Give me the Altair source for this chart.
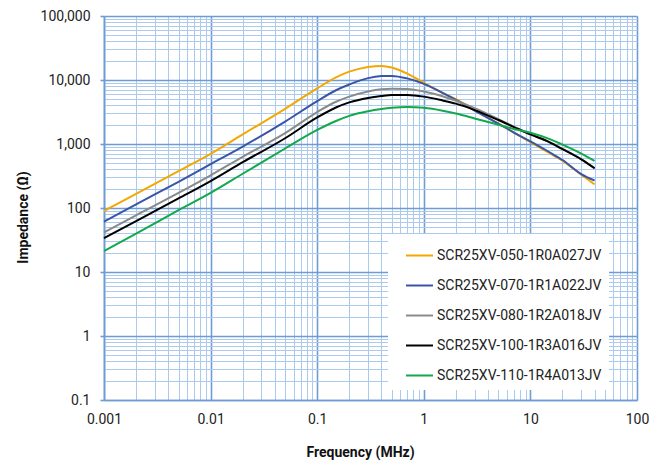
import altair as alt
import pandas as pd

# ---- data ----
freq = [0.001, 0.002, 0.005, 0.01, 0.02, 0.05, 0.1, 0.15, 0.2, 0.3, 0.4,
        0.5, 0.7, 1, 1.5, 2, 3, 5, 7, 10, 15, 20, 30, 40]

series_names = [
    "SCR25XV-050-1R0A027JV",
    "SCR25XV-070-1R1A022JV",
    "SCR25XV-080-1R2A018JV",
    "SCR25XV-100-1R3A016JV",
    "SCR25XV-110-1R4A013JV",
]
series_colors = ["#f3a800", "#3b55a6", "#8a8a8a", "#000000", "#13a84b"]

z_050 = [89.7, 166, 376, 700, 1410, 3550, 7410, 11000, 13500, 16000, 16600,
         15700, 12600, 9020, 6310, 5010, 3390, 2090, 1510, 1070, 724, 550, 331, 234]
z_070 = [61.1, 114, 257, 484, 912, 2240, 4680, 6920, 8510, 10700, 11500,
         11600, 10600, 8710, 6310, 4900, 3310, 2090, 1510, 1100, 750, 562, 339, 269]
z_080 = [41.7, 76.7, 172, 324, 631, 1480, 3160, 4570, 5500, 6610, 7160,
         7330, 7240, 6610, 5560, 4730, 3630, 2450, 1860, 1420, 1080, 836, 578, 419]
z_100 = [33.7, 62.4, 141, 263, 519, 1230, 2600, 3720, 4470, 5250, 5620,
         5820, 5820, 5500, 4790, 4270, 3390, 2370, 1840, 1410, 1070, 832, 575, 417]
z_110 = [21.3, 39.8, 92.3, 172, 343, 851, 1660, 2290, 2750, 3240, 3510,
         3670, 3780, 3670, 3310, 2990, 2510, 2000, 1720, 1500, 1200, 977, 708, 543]

x_major = [0.001, 0.01, 0.1, 1, 10, 100]
x_labels = ["0.001", "0.01", "0.1", "1", "10", "100"]
y_major = [0.1, 1, 10, 100, 1000, 10000, 100000]
y_labels = ["0.1", "1", "10", "100", "1,000", "10,000", "100,000"]

x_title = "Frequency (MHz)"
y_title = "Impedance (Ω)"

# ---- build table ----
all_z = [z_050, z_070, z_080, z_100, z_110]
rows = []
for name, zs in zip(series_names, all_z):
    for f, z in zip(freq, zs):
        rows.append({"freq": f, "z": z, "part": name})
df = pd.DataFrame(rows)

# tick positions (decades plus 2..9 multiples)
def minor_ticks(majors):
    vals = []
    for m in majors[:-1]:
        vals += [round(m * k, 10) for k in range(1, 10)]
    vals.append(majors[-1])
    return vals

x_ticks = minor_ticks(x_major)
y_ticks = minor_ticks(y_major)

def label_expr(majors, labels):
    expr = "''"
    for v, lab in reversed(list(zip(majors, labels))):
        expr = f"abs(datum.value - {v}) < {v}*1e-6 ? '{lab}' : ({expr})"
    return expr

is_major = "abs(log(datum.value)/LN10 - round(log(datum.value)/LN10)) < 0.001"
MAJOR = "#6f9dd3"
MINOR = "#abcaec"

grid_color = {"condition": {"test": is_major, "value": MAJOR}, "value": MINOR}
grid_width = {"condition": {"test": is_major, "value": 1.6}, "value": 1}

x_axis = alt.Axis(
    values=x_ticks, labelExpr=label_expr(x_major, x_labels),
    grid=True, gridColor=grid_color, gridWidth=grid_width,
    ticks=False, domainColor=MAJOR, domainWidth=1.6,
    labelFont="Roboto", labelFontSize=14, labelColor="#222222",
    labelPadding=12, labelOverlap=False, labelFlush=False,
    title=x_title, titleFont="Roboto", titleFontSize=14, titleFontWeight="bold",
    titleColor="#111111", titleX=256, titleY=56, titleAlign="center",
    titleBaseline="alphabetic",
)
y_axis = alt.Axis(
    values=y_ticks, labelExpr=label_expr(y_major, y_labels),
    grid=True, gridColor=grid_color, gridWidth=grid_width,
    ticks=True, tickSize=4,
    tickColor={"condition": {"test": is_major, "value": MAJOR}, "value": "rgba(0,0,0,0)"},
    tickWidth=1.6,
    domainColor=MAJOR, domainWidth=1.6,
    labelFont="Roboto", labelFontSize=14, labelColor="#222222",
    labelPadding=10, labelOverlap=False, labelFlush=False,
    title=y_title, titleFont="Roboto", titleFontSize=14, titleFontWeight="bold",
    titleColor="#111111", titleX=-81, titleY=201, titleAlign="center",
    titleBaseline="middle", titleAngle=270,
)

chart = alt.Chart(df).mark_line(strokeWidth=2, interpolate="monotone").encode(
    x=alt.X("freq:Q", scale=alt.Scale(type="log", domain=[0.001, 100], nice=False),
            axis=x_axis),
    y=alt.Y("z:Q", scale=alt.Scale(type="log", domain=[0.1, 100000], nice=False),
            axis=y_axis),
    color=alt.Color("part:N",
                    scale=alt.Scale(domain=series_names, range=series_colors),
                    legend=alt.Legend(
                        title=None, orient="none", legendX=284, legendY=218,
                        fillColor="white", padding=7, symbolOffset=10,
                        symbolType="stroke", symbolSize=729, symbolStrokeWidth=2,
                        labelFont="Roboto", labelFontSize=14, labelColor="#222222",
                        labelOffset=3, labelLimit=400, rowPadding=8,
                    )),
    order=alt.Order("freq:Q"),
).properties(
    width=533, height=384,
    autosize=alt.AutoSizeParams(type="none"),
    padding={"left": 96, "top": 8, "right": 18, "bottom": 62},
).configure_view(stroke="transparent").configure(background="white")

chart.save("out.html", embed_options={"renderer": "svg", "actions": False})
